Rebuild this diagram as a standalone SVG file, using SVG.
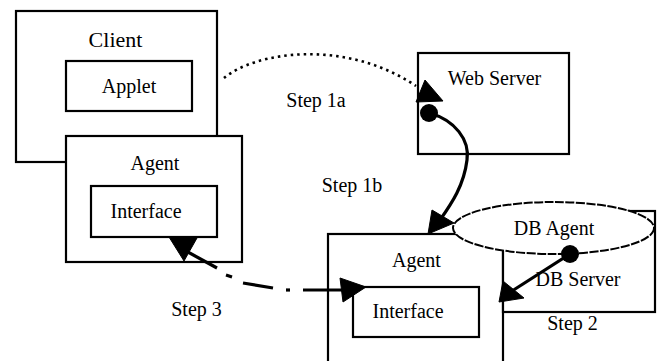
<svg xmlns="http://www.w3.org/2000/svg" width="660" height="361" viewBox="0 0 660 361">
<style>
.box{fill:#fff;stroke:#000;stroke-width:2.2}
.t{font-family:"Liberation Serif","Times New Roman",serif;font-size:20px;fill:#000;text-anchor:middle}
.ln{fill:none;stroke:#000;stroke-width:3.2;stroke-linecap:butt}
.dot{fill:none;stroke:#000;stroke-width:2.6;stroke-dasharray:2.5 4}
.ah{fill:#000;stroke:#000;stroke-width:1}
</style>
<rect width="660" height="361" fill="#fff"/>
<g id="client">
<rect class="box" x="16" y="11" width="201" height="151"/>
<text class="t" x="115.5" y="47" style="font-size:22px">Client</text>
</g>
<g id="applet">
<rect class="box" x="66" y="61" width="126" height="50"/>
<text class="t" x="129" y="93">Applet</text>
</g>
<g id="agent-left">
<rect class="box" x="66" y="136" width="176" height="126"/>
<text class="t" x="155" y="170">Agent</text>
</g>
<g id="interface-left">
<rect class="box" x="91" y="186" width="126" height="51"/>
<text class="t" x="146" y="218">Interface</text>
</g>
<g id="web-server">
<rect class="box" x="418" y="53" width="151" height="101"/>
<text class="t" x="494.5" y="85">Web Server</text>
</g>
<g id="agent-right">
<rect class="box" x="328" y="234" width="175" height="140"/>
<text class="t" x="416.5" y="267">Agent</text>
</g>
<g id="interface-right">
<rect class="box" x="353" y="287" width="126" height="50"/>
<text class="t" x="408" y="318">Interface</text>
</g>
<g id="db-server">
<rect class="box" x="503" y="211" width="152" height="101"/>
<text class="t" x="578" y="286">DB Server</text>
</g>
<g id="db-agent">
<ellipse cx="553.5" cy="228" rx="100.5" ry="26" fill="#fff" stroke="#000" stroke-width="2" stroke-dasharray="9 1.5"/>
<text class="t" x="554" y="235">DB Agent</text>
</g>
<g id="connectors">
<path class="dot" d="M224 78 C255 52 345 38 416 86"/>
<polygon class="ah" points="425,80 416,102 443,101"/>
<path class="ln" d="M429 113 C455 120 470 140 467 160 C464 185 452 203 440 220"/>
<circle cx="429" cy="113" r="9" fill="#000"/>
<polygon class="ah" points="428,234 432,210 454,223"/>
<line class="ln" x1="570" y1="254" x2="512" y2="291"/>
<circle cx="570" cy="254" r="9" fill="#000"/>
<polygon class="ah" points="499,302 503,281 524,298"/>
<line class="ln" x1="186" y1="251" x2="217" y2="268"/>
<line class="ln" x1="226" y1="275" x2="232" y2="277"/>
<line class="ln" x1="243" y1="283" x2="273" y2="288"/>
<line class="ln" x1="286" y1="290" x2="290" y2="290"/>
<line class="ln" x1="303" y1="290" x2="344" y2="290"/>
<polygon class="ah" points="169,237 197,238 184,261"/>
<polygon class="ah" points="366,287 340,278 343,302"/>
</g>
<g id="labels">
<text class="t" x="316" y="107">Step 1a</text>
<text class="t" x="352" y="192">Step 1b</text>
<text class="t" x="196.5" y="316">Step 3</text>
<text class="t" x="572.5" y="330">Step 2</text>
</g>
</svg>
